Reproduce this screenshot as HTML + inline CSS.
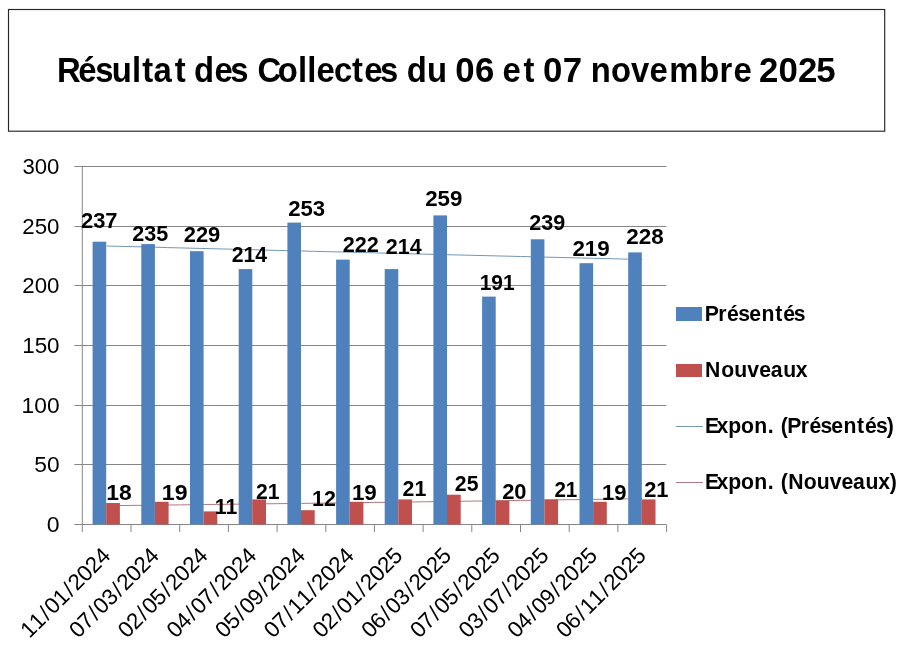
<!DOCTYPE html>
<html lang="fr"><head><meta charset="utf-8"><title>Résultat des Collectes</title>
<style>
html,body{margin:0;padding:0;background:#fff;}
body{width:900px;height:650px;overflow:hidden;}
svg{display:block;font-family:"Liberation Sans",sans-serif;fill:#000;will-change:transform;}
</style></head><body>
<svg width="900" height="650" viewBox="0 0 900 650">
<rect x="0" y="0" width="900" height="650" fill="#ffffff"/>
<rect x="8.5" y="9.5" width="876.2" height="121.7" fill="#fff" stroke="#262626" stroke-width="1.15"/>
<g id="title" font-size="34.8" font-weight="bold">
<text transform="scale(0.943,1)" y="82.2" x="60.32 82.98 101.13 118.58 140.04 150.79 162.74 185.27">Résultat</text>
<text transform="scale(0.943,1)" y="82.2" x="205.71 227.46 244.16">des</text>
<text transform="scale(0.943,1)" y="82.2" x="272.95 294.62 316.01 325.78 335.71 354.30 373.19 386.16 402.86">Collectes</text>
<text transform="scale(0.943,1)" y="82.2" x="431.27 452.73">du</text>
<text transform="scale(1.0,1)" y="82.2" x="455.31 475.05">06</text>
<text transform="scale(0.943,1)" y="82.2" x="532.75 555.06">et</text>
<text transform="scale(1.0,1)" y="82.2" x="542.91 562.72">07</text>
<text transform="scale(0.943,1)" y="82.2" x="626.58 648.07 669.27 688.75 709.60 741.53 762.98 777.77">novembre</text>
<text transform="scale(1.0,1)" y="82.2" x="759.08 778.53 797.98 816.36">2025</text>
</g>
<g stroke="#868686" stroke-width="1" fill="none">
<line x1="74.3" y1="524.5" x2="666.3" y2="524.5"/>
<line x1="74.3" y1="464.5" x2="666.3" y2="464.5"/>
<line x1="74.3" y1="405.5" x2="666.3" y2="405.5"/>
<line x1="74.3" y1="345.5" x2="666.3" y2="345.5"/>
<line x1="74.3" y1="285.5" x2="666.3" y2="285.5"/>
<line x1="74.3" y1="226.5" x2="666.3" y2="226.5"/>
<line x1="74.3" y1="166.5" x2="666.3" y2="166.5"/>
<line x1="82.3" y1="166.5" x2="82.3" y2="532.0"/>
<line x1="131.0" y1="524.5" x2="131.0" y2="532.0"/>
<line x1="179.7" y1="524.5" x2="179.7" y2="532.0"/>
<line x1="228.4" y1="524.5" x2="228.4" y2="532.0"/>
<line x1="277.1" y1="524.5" x2="277.1" y2="532.0"/>
<line x1="325.8" y1="524.5" x2="325.8" y2="532.0"/>
<line x1="374.4" y1="524.5" x2="374.4" y2="532.0"/>
<line x1="423.1" y1="524.5" x2="423.1" y2="532.0"/>
<line x1="471.8" y1="524.5" x2="471.8" y2="532.0"/>
<line x1="520.5" y1="524.5" x2="520.5" y2="532.0"/>
<line x1="569.2" y1="524.5" x2="569.2" y2="532.0"/>
<line x1="617.9" y1="524.5" x2="617.9" y2="532.0"/>
<line x1="666.6" y1="524.5" x2="666.6" y2="532.0"/>
</g>
<polyline points="106.6,246.0 118.8,246.3 131.0,246.6 143.2,246.9 155.3,247.2 167.5,247.6 179.7,247.9 191.9,248.2 204.0,248.5 216.2,248.8 228.4,249.1 240.5,249.4 252.7,249.7 264.9,250.1 277.1,250.4 289.2,250.7 301.4,251.0 313.6,251.3 325.8,251.6 337.9,251.9 350.1,252.2 362.3,252.5 374.4,252.8 386.6,253.2 398.8,253.5 411.0,253.8 423.1,254.1 435.3,254.4 447.5,254.7 459.6,255.0 471.8,255.3 484.0,255.6 496.2,255.9 508.3,256.2 520.5,256.5 532.7,256.8 544.9,257.1 557.0,257.4 569.2,257.7 581.4,258.0 593.5,258.3 605.7,258.6 617.9,258.9 630.1,259.2 642.2,259.5" fill="none" stroke="#7396B4" stroke-width="1"/>
<polyline points="106.6,505.7 118.8,505.6 131.0,505.4 143.2,505.3 155.3,505.1 167.5,505.0 179.7,504.9 191.9,504.7 204.0,504.6 216.2,504.4 228.4,504.3 240.5,504.1 252.7,504.0 264.9,503.8 277.1,503.7 289.2,503.5 301.4,503.4 313.6,503.2 325.8,503.1 337.9,502.9 350.1,502.8 362.3,502.6 374.4,502.4 386.6,502.3 398.8,502.1 411.0,502.0 423.1,501.8 435.3,501.6 447.5,501.5 459.6,501.3 471.8,501.1 484.0,501.0 496.2,500.8 508.3,500.6 520.5,500.4 532.7,500.3 544.9,500.1 557.0,499.9 569.2,499.7 581.4,499.6 593.5,499.4 605.7,499.2 617.9,499.0 630.1,498.8 642.2,498.6" fill="none" stroke="#B8787B" stroke-width="1"/>
<g id="bars">
<rect x="92.6" y="241.7" width="13.6" height="282.8" fill="#4F81BD"/>
<rect x="106.2" y="503.0" width="13.7" height="21.5" fill="#C0504D"/>
<rect x="141.3" y="244.1" width="13.6" height="280.4" fill="#4F81BD"/>
<rect x="154.9" y="501.8" width="13.7" height="22.7" fill="#C0504D"/>
<rect x="190.0" y="251.2" width="13.6" height="273.3" fill="#4F81BD"/>
<rect x="203.6" y="511.4" width="13.7" height="13.1" fill="#C0504D"/>
<rect x="238.7" y="269.1" width="13.6" height="255.4" fill="#4F81BD"/>
<rect x="252.3" y="499.4" width="13.7" height="25.1" fill="#C0504D"/>
<rect x="287.4" y="222.6" width="13.6" height="301.9" fill="#4F81BD"/>
<rect x="301.0" y="510.2" width="13.7" height="14.3" fill="#C0504D"/>
<rect x="336.1" y="259.6" width="13.6" height="264.9" fill="#4F81BD"/>
<rect x="349.7" y="501.8" width="13.7" height="22.7" fill="#C0504D"/>
<rect x="384.7" y="269.1" width="13.6" height="255.4" fill="#4F81BD"/>
<rect x="398.3" y="499.4" width="13.7" height="25.1" fill="#C0504D"/>
<rect x="433.4" y="215.4" width="13.6" height="309.1" fill="#4F81BD"/>
<rect x="447.0" y="494.7" width="13.7" height="29.8" fill="#C0504D"/>
<rect x="482.1" y="296.6" width="13.6" height="227.9" fill="#4F81BD"/>
<rect x="495.7" y="500.6" width="13.7" height="23.9" fill="#C0504D"/>
<rect x="530.8" y="239.3" width="13.6" height="285.2" fill="#4F81BD"/>
<rect x="544.4" y="499.4" width="13.7" height="25.1" fill="#C0504D"/>
<rect x="579.5" y="263.2" width="13.6" height="261.3" fill="#4F81BD"/>
<rect x="593.1" y="501.8" width="13.7" height="22.7" fill="#C0504D"/>
<rect x="628.2" y="252.4" width="13.6" height="272.1" fill="#4F81BD"/>
<rect x="641.8" y="499.4" width="13.7" height="25.1" fill="#C0504D"/>
</g>
<g id="yl">
<text x="22.47" y="174.35" font-size="22.7" font-weight="normal" textLength="36.98" lengthAdjust="spacingAndGlyphs">300</text>
<text x="22.29" y="234.35" font-size="22.7" font-weight="normal" textLength="37.17" lengthAdjust="spacingAndGlyphs">250</text>
<text x="22.29" y="293.35" font-size="22.7" font-weight="normal" textLength="37.17" lengthAdjust="spacingAndGlyphs">200</text>
<text x="22.22" y="353.35" font-size="22.7" font-weight="normal" textLength="37.34" lengthAdjust="spacingAndGlyphs">150</text>
<text x="21.59" y="413.35" font-size="22.7" font-weight="normal" textLength="37.98" lengthAdjust="spacingAndGlyphs">100</text>
<text x="34.39" y="472.35" font-size="22.7" font-weight="normal" textLength="25.32" lengthAdjust="spacingAndGlyphs">50</text>
<text x="46.88" y="532.35" font-size="22.7" font-weight="normal" textLength="12.81" lengthAdjust="spacingAndGlyphs">0</text>
</g>
<g id="dl1">
<text x="81.03" y="227.60" font-size="22.4" font-weight="bold" textLength="36.52" lengthAdjust="spacingAndGlyphs">237</text>
<text x="132.25" y="241.30" font-size="22.4" font-weight="bold" textLength="35.97" lengthAdjust="spacingAndGlyphs">235</text>
<text x="183.73" y="242.30" font-size="22.4" font-weight="bold" textLength="36.56" lengthAdjust="spacingAndGlyphs">229</text>
<text x="231.76" y="261.90" font-size="22.4" font-weight="bold" textLength="35.37" lengthAdjust="spacingAndGlyphs">214</text>
<text x="288.22" y="215.90" font-size="22.4" font-weight="bold" textLength="36.97" lengthAdjust="spacingAndGlyphs">253</text>
<text x="342.84" y="252.30" font-size="22.4" font-weight="bold" textLength="36.04" lengthAdjust="spacingAndGlyphs">222</text>
<text x="385.85" y="253.90" font-size="22.4" font-weight="bold" textLength="35.88" lengthAdjust="spacingAndGlyphs">214</text>
<text x="425.22" y="206.30" font-size="22.4" font-weight="bold" textLength="37.18" lengthAdjust="spacingAndGlyphs">259</text>
<text x="479.69" y="289.90" font-size="22.4" font-weight="bold" textLength="34.90" lengthAdjust="spacingAndGlyphs">191</text>
<text x="529.25" y="230.30" font-size="22.4" font-weight="bold" textLength="35.93" lengthAdjust="spacingAndGlyphs">239</text>
<text x="572.42" y="256.10" font-size="22.4" font-weight="bold" textLength="37.39" lengthAdjust="spacingAndGlyphs">219</text>
<text x="626.21" y="244.30" font-size="22.4" font-weight="bold" textLength="37.48" lengthAdjust="spacingAndGlyphs">228</text>
</g>
<g id="dl2">
<text x="106.37" y="500.30" font-size="22.4" font-weight="bold" textLength="25.47" lengthAdjust="spacingAndGlyphs">18</text>
<text x="161.86" y="500.30" font-size="22.4" font-weight="bold" textLength="25.71" lengthAdjust="spacingAndGlyphs">19</text>
<text x="214.87" y="513.60" font-size="22.4" font-weight="bold" textLength="22.46" lengthAdjust="spacingAndGlyphs">11</text>
<text x="255.96" y="498.70" font-size="22.4" font-weight="bold" textLength="23.57" lengthAdjust="spacingAndGlyphs">21</text>
<text x="311.96" y="505.90" font-size="22.4" font-weight="bold" textLength="23.85" lengthAdjust="spacingAndGlyphs">12</text>
<text x="351.90" y="500.30" font-size="22.4" font-weight="bold" textLength="24.94" lengthAdjust="spacingAndGlyphs">19</text>
<text x="402.55" y="495.90" font-size="22.4" font-weight="bold" textLength="23.68" lengthAdjust="spacingAndGlyphs">21</text>
<text x="454.86" y="491.00" font-size="22.4" font-weight="bold" textLength="23.57" lengthAdjust="spacingAndGlyphs">25</text>
<text x="502.13" y="499.20" font-size="22.4" font-weight="bold" textLength="24.40" lengthAdjust="spacingAndGlyphs">20</text>
<text x="554.38" y="496.50" font-size="22.4" font-weight="bold" textLength="22.94" lengthAdjust="spacingAndGlyphs">21</text>
<text x="601.92" y="499.90" font-size="22.4" font-weight="bold" textLength="24.50" lengthAdjust="spacingAndGlyphs">19</text>
<text x="644.13" y="496.50" font-size="22.4" font-weight="bold" textLength="24.32" lengthAdjust="spacingAndGlyphs">21</text>
</g>
<g id="xl">
<text transform="translate(111.6,557.0) rotate(-45)" x="-116.02 -103.85 -90.02 -82.42 -70.25 -56.42 -48.82 -36.65 -24.48 -12.31" y="0" font-size="22.4">11/01/2024</text>
<text transform="translate(160.3,557.0) rotate(-45)" x="-116.02 -103.85 -90.02 -82.42 -70.25 -56.42 -48.82 -36.65 -24.48 -12.31" y="0" font-size="22.4">07/03/2024</text>
<text transform="translate(209.0,557.0) rotate(-45)" x="-116.02 -103.85 -90.02 -82.42 -70.25 -56.42 -48.82 -36.65 -24.48 -12.31" y="0" font-size="22.4">02/05/2024</text>
<text transform="translate(257.7,557.0) rotate(-45)" x="-116.02 -103.85 -90.02 -82.42 -70.25 -56.42 -48.82 -36.65 -24.48 -12.31" y="0" font-size="22.4">04/07/2024</text>
<text transform="translate(306.4,557.0) rotate(-45)" x="-116.02 -103.85 -90.02 -82.42 -70.25 -56.42 -48.82 -36.65 -24.48 -12.31" y="0" font-size="22.4">05/09/2024</text>
<text transform="translate(355.1,557.0) rotate(-45)" x="-116.02 -103.85 -90.02 -82.42 -70.25 -56.42 -48.82 -36.65 -24.48 -12.31" y="0" font-size="22.4">07/11/2024</text>
<text transform="translate(403.8,557.0) rotate(-45)" x="-116.02 -103.85 -90.02 -82.42 -70.25 -56.42 -48.82 -36.65 -24.48 -12.31" y="0" font-size="22.4">02/01/2025</text>
<text transform="translate(452.5,557.0) rotate(-45)" x="-116.02 -103.85 -90.02 -82.42 -70.25 -56.42 -48.82 -36.65 -24.48 -12.31" y="0" font-size="22.4">06/03/2025</text>
<text transform="translate(501.2,557.0) rotate(-45)" x="-116.02 -103.85 -90.02 -82.42 -70.25 -56.42 -48.82 -36.65 -24.48 -12.31" y="0" font-size="22.4">07/05/2025</text>
<text transform="translate(549.9,557.0) rotate(-45)" x="-116.02 -103.85 -90.02 -82.42 -70.25 -56.42 -48.82 -36.65 -24.48 -12.31" y="0" font-size="22.4">03/07/2025</text>
<text transform="translate(598.5,557.0) rotate(-45)" x="-116.02 -103.85 -90.02 -82.42 -70.25 -56.42 -48.82 -36.65 -24.48 -12.31" y="0" font-size="22.4">04/09/2025</text>
<text transform="translate(647.2,557.0) rotate(-45)" x="-116.02 -103.85 -90.02 -82.42 -70.25 -56.42 -48.82 -36.65 -24.48 -12.31" y="0" font-size="22.4">06/11/2025</text>
</g>
<rect x="675.7" y="307.2" width="26.6" height="13.3" fill="#4F81BD" shape-rendering="crispEdges"/>
<g font-size="22.5" font-weight="bold">
<text transform="scale(0.942,1)" y="320.8" x="748.27 762.43 771.77 783.68 795.33 808.44 822.99 831.55 842.60">Présentés</text>
</g>
<rect x="675.7" y="363.8" width="26.6" height="12.8" fill="#C0504D" shape-rendering="crispEdges"/>
<g font-size="22.5" font-weight="bold">
<text transform="scale(0.942,1)" y="376.8" x="748.48 765.62 779.51 793.28 805.90 818.30 831.60 844.87">Nouveaux</text>
</g>
<line x1="675.8" y1="426.5" x2="702.9" y2="426.5" stroke="#7A98AC" stroke-width="1"/>
<g font-size="22.5" font-weight="bold">
<text transform="scale(0.942,1)" y="432.8" x="748.48 760.72 773.04 786.75 800.66 814.99">Expon.</text>
<text transform="scale(0.942,1)" y="432.8" x="828.71 835.67 850.11 859.30 871.05 882.53 895.44 909.83 918.23 929.98 941.40">(Présentés)</text>
</g>
<line x1="675.8" y1="482.5" x2="702.9" y2="482.5" stroke="#AE7C80" stroke-width="1"/>
<g font-size="22.5" font-weight="bold">
<text transform="scale(0.942,1)" y="488.8" x="748.48 760.72 773.04 786.75 800.66 814.99">Expon.</text>
<text transform="scale(0.942,1)" y="488.8" x="828.71 836.67 853.29 867.06 880.73 893.24 905.54 918.72 932.23 944.49">(Nouveaux)</text>
</g>
</svg></body></html>
